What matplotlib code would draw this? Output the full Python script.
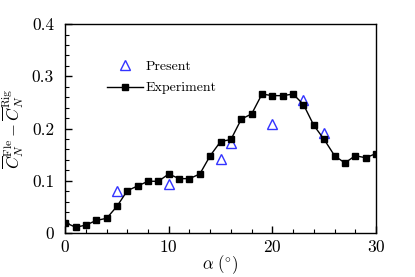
import matplotlib
matplotlib.use("Agg")
import matplotlib.pyplot as plt
from matplotlib.ticker import MultipleLocator

plt.rcParams['font.family'] = 'serif'
plt.rcParams['font.serif'] = ['cmr10']
plt.rcParams['mathtext.fontset'] = 'cm'
plt.rcParams['axes.formatter.use_mathtext'] = True

# experiment data
alpha_exp = list(range(0, 31))
cn_exp = [0.020, 0.011, 0.015, 0.024, 0.028, 0.051, 0.081, 0.090, 0.099, 0.099,
          0.113, 0.104, 0.104, 0.113, 0.148, 0.175, 0.179, 0.218, 0.228, 0.266,
          0.263, 0.263, 0.266, 0.246, 0.206, 0.179, 0.148, 0.134, 0.148, 0.144,
          0.152]

# present (simulation) data
alpha_pre = [5, 10, 15, 16, 20, 23, 25]
cn_pre = [0.080, 0.094, 0.141, 0.172, 0.208, 0.255, 0.192]

fig = plt.figure(figsize=(4.15, 2.77), dpi=100)
ax = fig.add_axes([0.157, 0.159, 0.749, 0.754])

ax.plot(alpha_pre, cn_pre, linestyle='none', marker='^', markersize=6.5,
        markerfacecolor='none', markeredgecolor='#3333ff', markeredgewidth=1.0,
        label='Present')
ax.plot(alpha_exp, cn_exp, color='black', linewidth=1.0, marker='s',
        markersize=5, label='Experiment')

ax.set_xlim(0, 30)
ax.set_ylim(0, 0.4)
ax.xaxis.set_major_locator(MultipleLocator(10))
ax.xaxis.set_minor_locator(MultipleLocator(2))
ax.yaxis.set_minor_locator(MultipleLocator(0.02))
ax.set_yticks([0, 0.1, 0.2, 0.3, 0.4])
ax.set_yticklabels(['0', '0.1', '0.2', '0.3', '0.4'])
ax.tick_params(which='both', direction='in', top=False, right=False,
               labelsize=12.5)
ax.tick_params(which='major', length=5, width=1)
ax.tick_params(which='minor', length=3, width=0.8)
ax.tick_params(axis='y', pad=8)
ax.tick_params(axis='x', pad=4)
for s in ax.spines.values():
    s.set_linewidth(1.0)

ax.set_xlabel(r'$\alpha\ (^{\circ})$', fontsize=12, labelpad=-1)
ax.set_ylabel(r'$\overline{C}_N^{\mathrm{Fle}} - \overline{C}_N^{\mathrm{Rig}}$',
              fontsize=12, labelpad=4)

ax.legend(loc='upper left', bbox_to_anchor=(0.095, 0.885), frameon=False,
          fontsize=10, handlelength=2.6, handletextpad=0.15, labelspacing=0.6)

fig.savefig('out.png', dpi=100)
